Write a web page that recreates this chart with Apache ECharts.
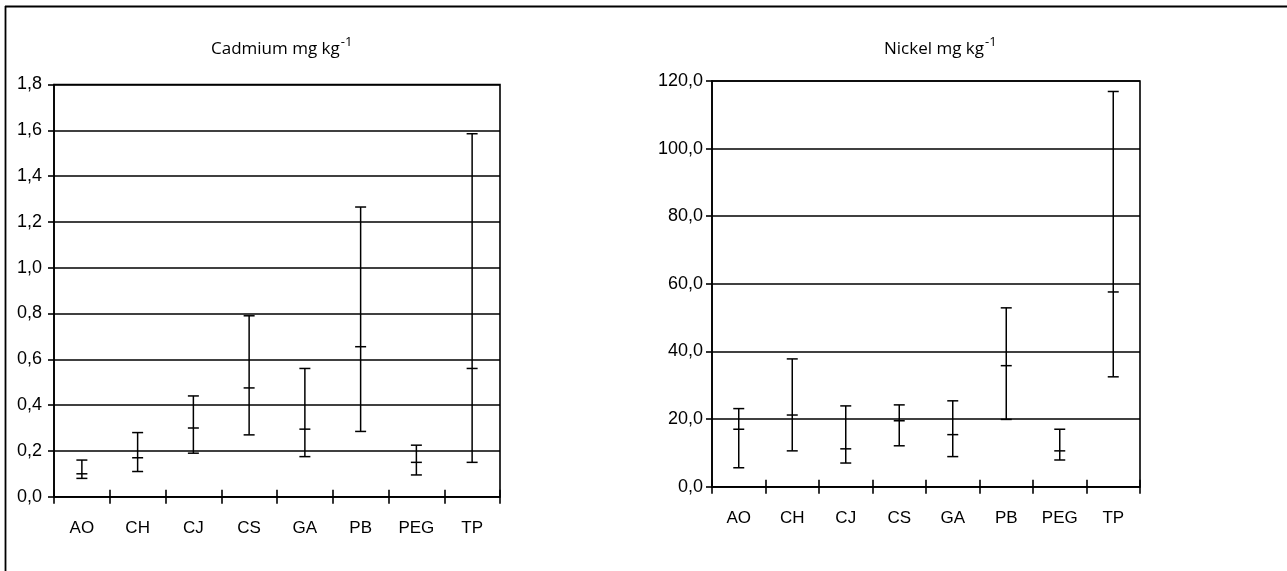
<!DOCTYPE html>
<html>
<head>
<meta charset="utf-8">
<script src="https://cdn.jsdelivr.net/npm/echarts@6/dist/echarts.min.js"></script>
<style>
  html, body { margin: 0; padding: 0; background: #fff; }
  #chart { width: 1287px; height: 571px; }
</style>
</head>
<body>
<div id="chart"></div>
<script>
// sites
var sites = ['AO', 'CH', 'CJ', 'CS', 'GA', 'PB', 'PEG', 'TP'];

// cadmium, mg/kg
var cdMin  = [0.08, 0.11, 0.19, 0.27, 0.175, 0.285, 0.095, 0.15];
var cdMax  = [0.16, 0.28, 0.44, 0.79, 0.56, 1.265, 0.225, 1.585];
var cdMean = [0.10, 0.17, 0.30, 0.475, 0.295, 0.655, 0.15, 0.56];

// nickel, mg/kg
var niMin  = [5.6, 10.6, 7.0, 12.1, 8.9, 19.9, 7.9, 32.5];
var niMax  = [23.1, 37.8, 23.9, 24.2, 25.4, 52.9, 17.0, 116.9];
var niMean = [17.0, 21.2, 11.2, 19.5, 15.4, 35.8, 10.6, 57.6];

function rows(mins, maxs, means) {
    return sites.map(function (s, i) { return [i, mins[i], maxs[i], means[i]]; });
}

var ink = '#000';
var lw = 1.6;

// vertical line + caps at min, max, mean
function errBar(params, api) {
    var i = api.value(0);
    var lo = api.coord([i, api.value(1)]);
    var hi = api.coord([i, api.value(2)]);
    var md = api.coord([i, api.value(3)]);
    var hw = 5.5;
    var st = { stroke: ink, lineWidth: 1.5 };
    function cap(p) {
        return { type: 'line', shape: { x1: p[0] - hw, y1: p[1], x2: p[0] + hw, y2: p[1] }, style: st };
    }
    return {
        type: 'group',
        children: [
            { type: 'line', shape: { x1: hi[0], y1: hi[1], x2: lo[0], y2: lo[1] }, style: st },
            cap(hi), cap(lo), cap(md)
        ]
    };
}

var labelFont = 'Liberation Sans, Arial, sans-serif';

function catAxis(g, inner) {
    return {
        type: 'category', gridIndex: g, data: sites, position: 'bottom',
        boundaryGap: true,
        axisLine: { show: !inner, lineStyle: { color: ink, width: lw } },
        axisTick: { show: true, inside: inner, length: 7, lineStyle: { color: ink, width: lw } },
        axisLabel: { show: !inner, color: ink, fontSize: 17, fontFamily: labelFont, margin: 23 },
        splitLine: { show: false }
    };
}

function valAxis(g, max, step, dec) {
    return {
        type: 'value', gridIndex: g, min: 0, max: max, interval: step,
        axisLine: { show: true, lineStyle: { color: ink, width: lw } },
        axisTick: { show: true, length: 6, lineStyle: { color: ink, width: lw } },
        axisLabel: {
            color: ink, fontSize: 18, fontFamily: labelFont, margin: g === 0 ? 12 : 9,
            formatter: function (v) { return v.toFixed(dec).replace('.', ','); }
        },
        splitLine: { show: true, lineStyle: { color: ink, width: lw } }
    };
}

var titleFont = 'Open Sans, Noto Sans, sans-serif';
function titleText(name) {
    return {
        type: 'text',
        style: {
            text: name + ' mg kg{s|-1}',
            fontFamily: titleFont, fontSize: 17, fill: ink,
            align: 'center', verticalAlign: 'middle',
            rich: { s: { fontSize: 13, fontFamily: titleFont, padding: [0, 0, 13, 1] } }
        }
    };
}

var chart = echarts.init(document.getElementById('chart'));
chart.setOption({
    animation: false,
    backgroundColor: '#fff',
    grid: [
        { left: 54, width: 446, top: 84.5, height: 412.2, show: true, borderColor: ink, borderWidth: lw },
        { left: 712, width: 428, top: 81, height: 405.7, show: true, borderColor: ink, borderWidth: lw }
    ],
    xAxis: [catAxis(0, false), catAxis(0, true), catAxis(1, false), catAxis(1, true)],
    yAxis: [valAxis(0, 1.8, 0.2, 1), valAxis(1, 120, 20, 1)],
    graphic: [
        // outer frame (left and top edges only)
        { type: 'line', shape: { x1: 5.5, y1: 6, x2: 5.5, y2: 571 }, style: { stroke: ink, lineWidth: 1.8 } },
        { type: 'line', shape: { x1: 5, y1: 6.5, x2: 1287, y2: 6.5 }, style: { stroke: ink, lineWidth: 1.8 } },
        Object.assign(titleText('Cadmium'), { left: 211, top: 36 }),
        Object.assign(titleText('Nickel'), { left: 884, top: 36 })
    ],
    series: [
        { type: 'custom', xAxisIndex: 0, yAxisIndex: 0, renderItem: errBar,
          encode: { x: 0, y: [1, 2, 3] }, data: rows(cdMin, cdMax, cdMean) },
        { type: 'custom', xAxisIndex: 2, yAxisIndex: 1, renderItem: errBar,
          encode: { x: 0, y: [1, 2, 3] }, data: rows(niMin, niMax, niMean) }
    ]
});
</script>
</body>
</html>
